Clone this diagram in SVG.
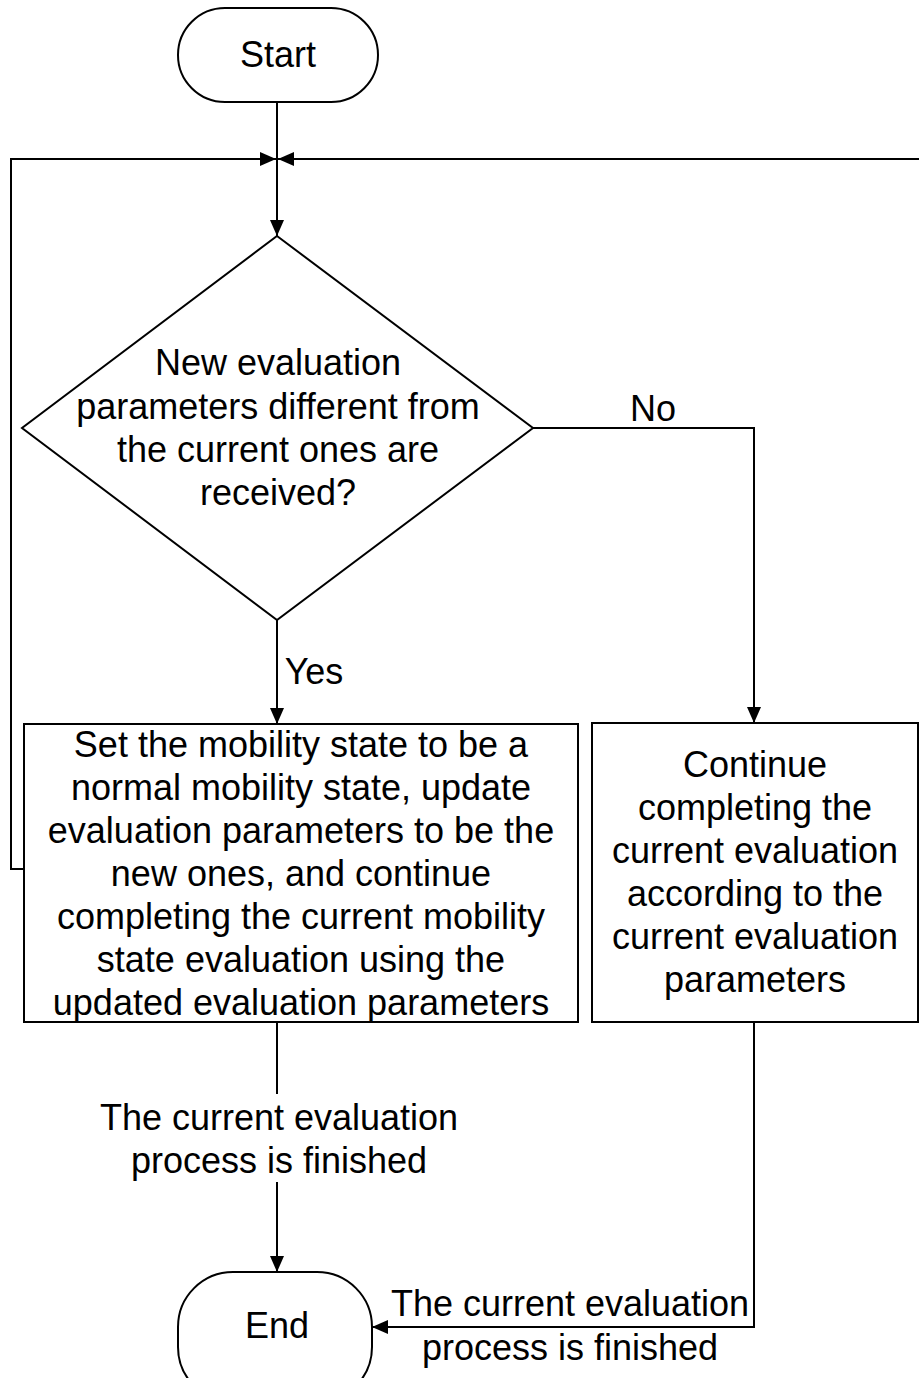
<svg xmlns="http://www.w3.org/2000/svg" width="919" height="1378" viewBox="0 0 919 1378">
<defs>
<style>
.s{fill:#fff;stroke:#000;stroke-width:2}
.c{fill:none;stroke:#000;stroke-width:2}
.t{font-family:"Liberation Sans",Arial,sans-serif;font-size:36px;fill:#000;text-anchor:middle}
</style>
<marker id="a" markerWidth="16" markerHeight="14" refX="16" refY="7" orient="auto" markerUnits="userSpaceOnUse">
<path d="M0,0 L16,7 L0,14 Z" fill="#000"/>
</marker>
</defs>
<rect width="919" height="1378" fill="#fff"/>
<g id="connectors">
<path class="c" d="M277,102 V236" marker-end="url(#a)"/>
<path class="c" d="M24,869 H11 V159 H276" marker-end="url(#a)"/>
<path class="c" d="M919,159 H278" marker-end="url(#a)"/>
<path class="c" d="M533,428 H754 V723" marker-end="url(#a)"/>
<path class="c" d="M277,620 V724" marker-end="url(#a)"/>
<path class="c" d="M277,1022 V1094"/>
<path class="c" d="M277,1182 V1272" marker-end="url(#a)"/>
<path class="c" d="M754,1022 V1327 H372" marker-end="url(#a)"/>
<text class="t" x="653" y="421">No</text>
<text class="t" x="314" y="684">Yes</text>
<text class="t" x="279" y="1130">The current evaluation</text>
<text class="t" x="279" y="1173">process is finished</text>
<text class="t" x="570" y="1316">The current evaluation</text>
<text class="t" x="570" y="1360">process is finished</text>
</g>
<g id="start">
<rect class="s" x="178" y="8" width="200" height="94" rx="47"/>
<text class="t" x="278" y="67">Start</text>
</g>
<g id="decision">
<polygon class="s" points="277,236 533,428 277,620 22,428"/>
<text class="t" x="278" y="375">New evaluation</text>
<text class="t" x="278" y="419">parameters different from</text>
<text class="t" x="278" y="462">the current ones are</text>
<text class="t" x="278" y="505">received?</text>
</g>
<g id="update">
<rect class="s" x="24" y="724" width="554" height="298"/>
<text class="t" x="301" y="757">Set the mobility state to be a</text>
<text class="t" x="301" y="800">normal mobility state, update</text>
<text class="t" x="301" y="843">evaluation parameters to be the</text>
<text class="t" x="301" y="886">new ones, and continue</text>
<text class="t" x="301" y="929">completing the current mobility</text>
<text class="t" x="301" y="972">state evaluation using the</text>
<text class="t" x="301" y="1015">updated evaluation parameters</text>
</g>
<g id="continue">
<rect class="s" x="592" y="723" width="326" height="299"/>
<text class="t" x="755" y="777">Continue</text>
<text class="t" x="755" y="820">completing the</text>
<text class="t" x="755" y="863">current evaluation</text>
<text class="t" x="755" y="906">according to the</text>
<text class="t" x="755" y="949">current evaluation</text>
<text class="t" x="755" y="992">parameters</text>
</g>
<g id="end">
<rect class="s" x="178" y="1272" width="194" height="130" rx="55"/>
<text class="t" x="277" y="1338">End</text>
</g>
</svg>
